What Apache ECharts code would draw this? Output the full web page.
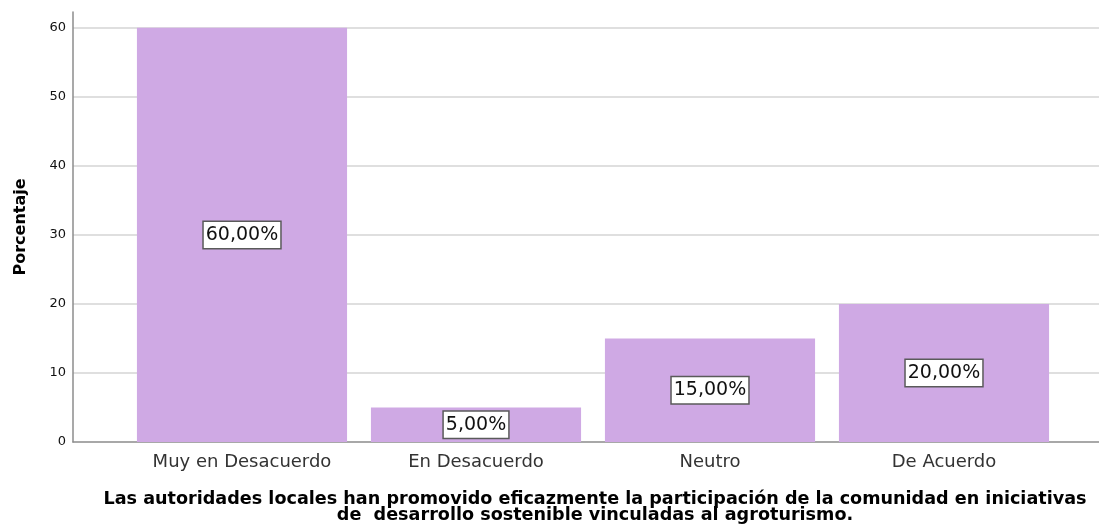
<!DOCTYPE html>
<html>
<head>
<meta charset="utf-8">
<script src="https://cdn.jsdelivr.net/npm/echarts@6/dist/echarts.min.js"></script>
<style>
  html, body { margin: 0; padding: 0; background: #fff; }
  #chart { width: 1099px; height: 528px; }
</style>
</head>
<body>
<div id="chart"></div>
<script>
// Response categories and their percentages
const categories = ['Muy en Desacuerdo', 'En Desacuerdo', 'Neutro', 'De Acuerdo'];
const percentages = [60, 5, 15, 20];
const yTicks = [0, 10, 20, 30, 40, 50, 60];
const yTitle = 'Porcentaje';
const xTitle = 'Las autoridades locales han promovido eficazmente la participación de la comunidad en iniciativas\nde  desarrollo sostenible vinculadas al agroturismo.';

const FONT = '"DejaVu Sans", "Liberation Sans", Arial, sans-serif';
const Y_MIN = yTicks[0];
const Y_MAX = 62.3; // axis line runs a little past the top gridline
const Y_STEP = yTicks[1] - yTicks[0];

const fmtPct = v => v.toFixed(2).replace('.', ',') + '%';

const chart = echarts.init(document.getElementById('chart'), null, { renderer: 'canvas' });

chart.setOption({
  backgroundColor: '#ffffff',
  animation: false,
  title: {
    text: xTitle,
    left: 590,
    top: 487,
    textAlign: 'center',
    textStyle: {
      fontFamily: FONT,
      fontSize: 17.6,
      fontWeight: 'bold',
      color: '#000',
      lineHeight: 15.5
    }
  },
  grid: [
    // frame grid: y axis, gridlines and baseline across the full width
    { left: 73, right: 0, top: 12, bottom: 86, containLabel: false },
    // bar grid: category bands
    { left: 125, right: 38, top: 12, bottom: 86, containLabel: false }
  ],
  xAxis: [
    {
      gridIndex: 0,
      type: 'value',
      min: 0, max: 1,
      axisLine: { show: true, lineStyle: { color: '#8c8c8c', width: 1.5 } },
      axisTick: { show: false },
      axisLabel: { show: false },
      splitLine: { show: false }
    },
    {
      gridIndex: 1,
      type: 'category',
      data: categories,
      axisLine: { show: false },
      axisTick: { show: false },
      axisLabel: {
        margin: 11,
        fontFamily: FONT,
        fontSize: 18,
        color: '#333'
      }
    }
  ],
  yAxis: [
    {
      gridIndex: 0,
      type: 'value',
      min: Y_MIN,
      max: Y_MAX,
      interval: Y_STEP,
      name: yTitle,
      nameLocation: 'middle',
      nameGap: 44,
      nameTextStyle: {
        fontFamily: FONT,
        fontSize: 16,
        fontWeight: 'bold',
        color: '#000'
      },
      axisLine: { show: true, lineStyle: { color: '#8c8c8c', width: 1.5 } },
      axisTick: { show: false },
      axisLabel: {
        showMaxLabel: false,
        margin: 7,
        fontFamily: FONT,
        fontSize: 13,
        color: '#111',
        formatter: v => (yTicks.includes(v) ? String(v) : '')
      },
      splitLine: {
        show: true,
        showMaxLine: false,
        showMinLine: false,
        lineStyle: { color: '#d4d4d4', width: 1.5 }
      }
    },
    {
      gridIndex: 1,
      type: 'value',
      min: Y_MIN,
      max: Y_MAX,
      show: false
    }
  ],
  series: [{
    type: 'bar',
    xAxisIndex: 1,
    yAxisIndex: 1,
    data: percentages,
    barCategoryGap: '10.2%',
    itemStyle: { color: '#cfa9e4' },
    label: {
      show: true,
      position: 'inside',
      formatter: p => fmtPct(p.value),
      fontFamily: FONT,
      fontSize: 19,
      color: '#111',
      backgroundColor: '#ffffff',
      borderColor: '#5a5a5a',
      borderWidth: 1.5,
      padding: [4, 2, 3, 2]
    }
  }]
});
</script>
</body>
</html>
